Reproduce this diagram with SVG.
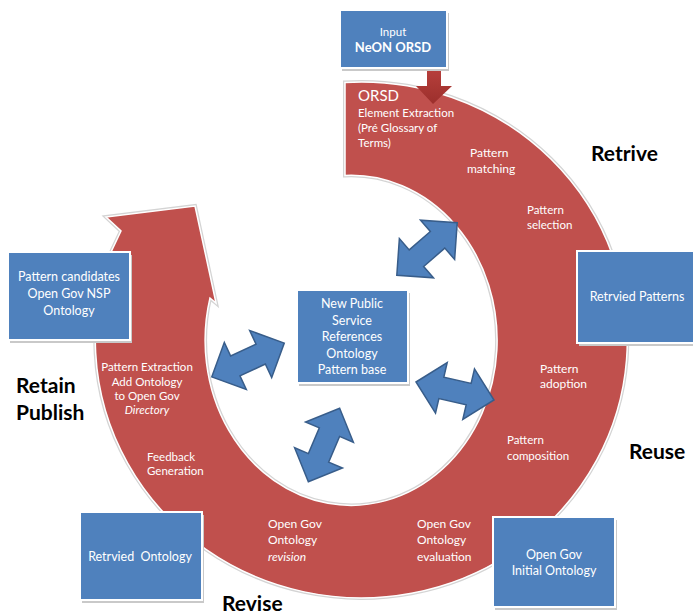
<svg xmlns="http://www.w3.org/2000/svg" width="693" height="615" viewBox="0 0 693 615">
  <defs>
    <style>
      .box { fill: #4F81BD; stroke: #ffffff; stroke-width: 2; }
      .shadow { fill: #c9c9c9; }
      .wt { fill: #ffffff; font-family: Lato, "Open Sans", sans-serif; font-size: 11.5px; }
      .bt { fill: #ffffff; font-family: Lato, "Open Sans", sans-serif; font-size: 11.5px; text-anchor: middle; }
      .nt { fill: #ffffff; font-family: Lato, "Open Sans", sans-serif; font-size: 12.5px; text-anchor: middle; }
      .lab { fill: #000000; font-family: Lato, "Liberation Sans", sans-serif; font-size: 21px; font-weight: bold; }
      .dbl { fill: #4F81BD; stroke: #385D8A; stroke-width: 1.5; stroke-linejoin: miter; }
    </style>
    <linearGradient id="downGrad" x1="0" y1="0" x2="0" y2="1">
      <stop offset="0" stop-color="#b8403c"/>
      <stop offset="1" stop-color="#9c2f2c"/>
    </linearGradient>
    <!-- double-headed block arrow, centred on the origin along the x axis -->
    <polygon id="dblArrow" class="dbl" points="-40,0 -14,-26 -14,-11 14,-11 14,-26 40,0 14,26 14,11 -14,11 -14,26"/>
  </defs>

  <rect width="693" height="615" fill="#ffffff"/>

  <!-- circular process arrow -->
  <g id="cycle">
    <path d="M345,82.4 A266 258 0 1 1 112,250 L121,231 L106,217 L195,206 L216,303 L210,298 A146 165 0 1 0 345,175.5 Z"
          fill="none" stroke="#d4d4d4" stroke-width="4"/>
    <path d="M345,82.4 A266 258 0 1 1 112,250 L121,231 L106,217 L195,206 L216,303 L210,298 A146 165 0 1 0 345,175.5 Z"
          fill="#C0504D" stroke="#ffffff" stroke-width="1.5"/>
  </g>

  <!-- connectors -->
  <g id="connectors">
    <polygon points="427,68 441,68 441,86 452,86 433,104 416,86 427,86" fill="url(#downGrad)"/>
    <use href="#dblArrow" transform="translate(427,249) rotate(-41)"/>
    <use href="#dblArrow" transform="translate(248,360) rotate(-25)"/>
    <use href="#dblArrow" transform="translate(455,391) rotate(13)"/>
    <use href="#dblArrow" transform="translate(324,445) rotate(113)"/>
  </g>

  <!-- step labels on the cycle -->
  <g id="steps">
    <text class="wt" x="358" y="101" style="font-size:15px">ORSD</text>
    <text class="wt" x="358" y="117">Element Extraction</text>
    <text class="wt" x="358" y="132">(Pré Glossary of</text>
    <text class="wt" x="358" y="147">Terms)</text>
    <text class="wt" x="470" y="157" style="font-size:12px">Pattern</text>
    <text class="wt" x="467" y="173" style="font-size:12px">matching</text>
    <text class="wt" x="527" y="214">Pattern</text>
    <text class="wt" x="527" y="229">selection</text>
    <text class="wt" x="540" y="373" style="font-size:12px">Pattern</text>
    <text class="wt" x="540" y="388" style="font-size:12px">adoption</text>
    <text class="wt" x="507" y="444">Pattern</text>
    <text class="wt" x="507" y="460">composition</text>
    <text class="wt" x="417" y="528" style="font-size:12px">Open Gov</text>
    <text class="wt" x="417" y="544" style="font-size:12px">Ontology</text>
    <text class="wt" x="417" y="561" style="font-size:12px">evaluation</text>
    <text class="wt" x="268" y="528" style="font-size:12px">Open Gov</text>
    <text class="wt" x="268" y="544" style="font-size:12px">Ontology</text>
    <text class="wt" x="268" y="561" style="font-size:12px" font-style="italic">revision</text>
    <text class="wt" x="147" y="461">Feedback</text>
    <text class="wt" x="147" y="475">Generation</text>
    <text class="bt" x="147" y="371">Pattern Extraction</text>
    <text class="bt" x="147" y="386">Add Ontology</text>
    <text class="bt" x="147" y="400">to Open Gov</text>
    <text class="bt" x="147" y="414" font-style="italic">Directory</text>
  </g>

  <!-- nodes -->
  <g id="input">
    <rect class="shadow" x="342" y="13" width="107" height="58"/>
    <rect class="box" x="340" y="10" width="107" height="58"/>
    <text class="bt" x="393" y="36">Input</text>
    <text class="bt" x="393" y="52" font-weight="bold" style="font-size:13px">NeON ORSD</text>
  </g>

  <g id="pattern-candidates">
    <rect class="shadow" x="10" y="255" width="122" height="88"/>
    <rect class="box" x="8" y="252" width="122" height="88"/>
    <text class="nt" x="69" y="281">Pattern candidates</text>
    <text class="nt" x="69" y="298">Open Gov NSP</text>
    <text class="nt" x="69" y="315">Ontology</text>
  </g>

  <g id="pattern-base">
    <rect class="shadow" x="299" y="293" width="111" height="93"/>
    <rect class="box" x="297" y="290" width="111" height="93"/>
    <text class="nt" x="352" y="308">New Public</text>
    <text class="nt" x="352" y="325">Service</text>
    <text class="nt" x="352" y="341">References</text>
    <text class="nt" x="352" y="358">Ontology</text>
    <text class="nt" x="352" y="374">Pattern base</text>
  </g>

  <g id="retrieved-patterns">
    <rect class="shadow" x="579" y="254" width="120" height="92"/>
    <rect class="box" x="577" y="251" width="120" height="92"/>
    <text class="nt" x="637" y="301">Retrvied Patterns</text>
  </g>

  <g id="retrieved-ontology">
    <rect class="shadow" x="82" y="515" width="122" height="88"/>
    <rect class="box" x="80" y="512" width="122" height="88"/>
    <text class="nt" x="140" y="561">Retrvied&#160; Ontology</text>
  </g>

  <g id="initial-ontology">
    <rect class="shadow" x="495" y="520" width="122" height="90"/>
    <rect class="box" x="493" y="517" width="122" height="90"/>
    <text class="nt" x="554" y="559">Open Gov</text>
    <text class="nt" x="554" y="575">Initial Ontology</text>
  </g>

  <!-- phase names -->
  <g id="phases">
    <text class="lab" x="591" y="161">Retrive</text>
    <text class="lab" x="629" y="459">Reuse</text>
    <text class="lab" x="222" y="611">Revise</text>
    <text class="lab" x="16" y="393">Retain</text>
    <text class="lab" x="16" y="420">Publish</text>
  </g>
</svg>
